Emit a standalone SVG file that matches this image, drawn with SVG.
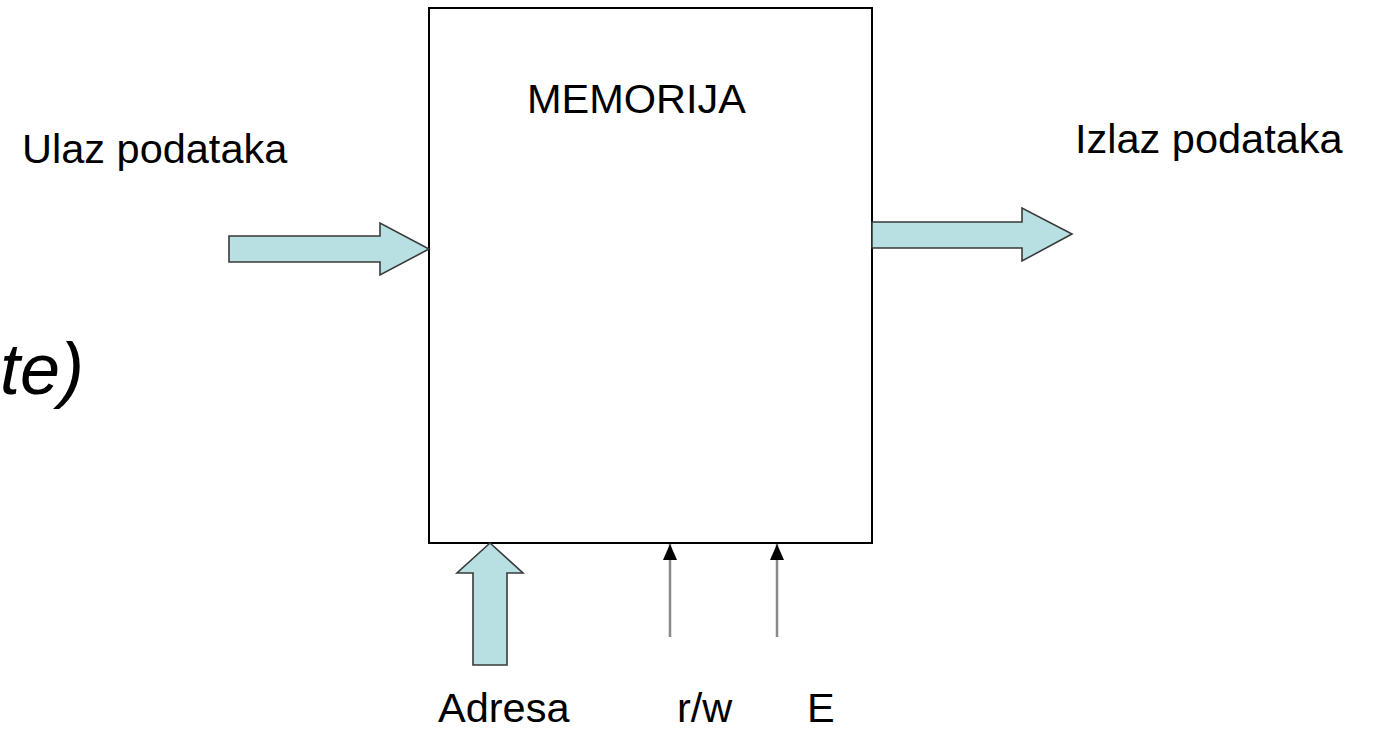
<svg xmlns="http://www.w3.org/2000/svg" width="1373" height="731" viewBox="0 0 1373 731">
<defs>
<style>
.t{font-family:"Liberation Sans",Arial,sans-serif;font-size:41.5px;fill:#000}
.fat{fill:#b8dfe2;stroke:#3a3a3a;stroke-width:1.6;stroke-linejoin:miter}
.thin{stroke:#8a8a8a;stroke-width:2.5;fill:none}
</style>
<marker id="ah" markerWidth="16" markerHeight="14" refX="16" refY="7" viewBox="0 0 16 14" markerUnits="userSpaceOnUse" orient="auto">
<path d="M0,0 L16,7 L0,14 Z" fill="#000"/>
</marker>
</defs>
<rect width="1373" height="731" fill="#fff"/>
<text x="0" y="394" font-family="Liberation Sans, Arial, sans-serif" font-size="72" font-style="italic" fill="#000">te)</text>
<g id="memorija">
<rect x="429" y="8" width="443" height="535" fill="#fff" stroke="#000" stroke-width="2"/>
<text class="t" x="527" y="113">MEMORIJA</text>
</g>
<g id="ulaz">
<text class="t" x="22" y="163">Ulaz podataka</text>
</g>
<g id="izlaz">
<text class="t" x="1075" y="153">Izlaz podataka</text>
</g>
<g id="adresa"><text class="t" x="438" y="722">Adresa</text></g>
<g id="rw"><text class="t" x="677" y="722">r/w</text></g>
<g id="e"><text class="t" x="807" y="722">E</text></g>
<g id="connectors">
<path class="fat" d="M229,236 L380,236 L380,223 L429,249 L380,275 L380,262 L229,262 Z"/>
<path class="fat" d="M872,222 L1022,222 L1022,208 L1072,234 L1022,261 L1022,248 L872,248 Z"/>
<path class="fat" d="M490,543 L523,573 L507,573 L507,665 L473,665 L473,573 L457,573 Z"/>
<line class="thin" x1="670" y1="637" x2="670" y2="544" marker-end="url(#ah)"/>
<line class="thin" x1="777" y1="637" x2="777" y2="544" marker-end="url(#ah)"/>
</g>
</svg>
